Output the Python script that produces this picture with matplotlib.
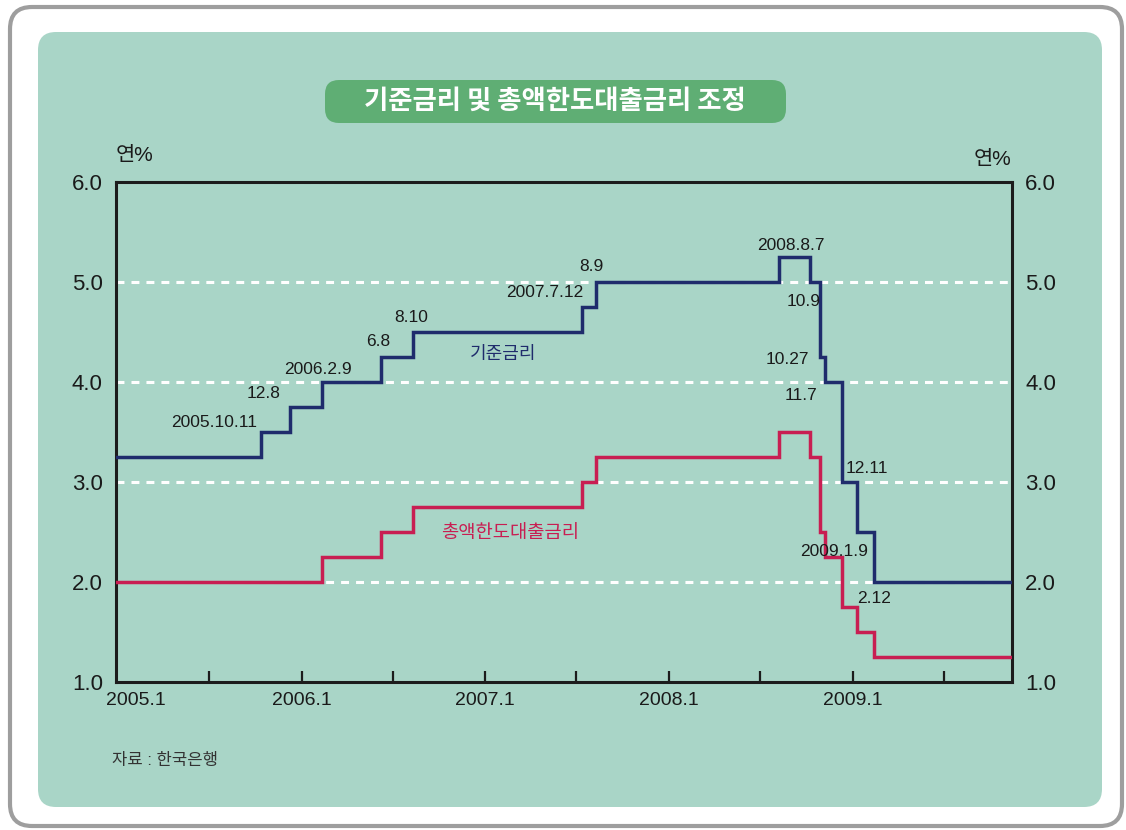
import matplotlib
matplotlib.use('Agg')
import matplotlib.pyplot as plt
import matplotlib.transforms as mtransforms
from matplotlib.patches import FancyBboxPatch
from matplotlib.ticker import FuncFormatter, FixedLocator
import matplotlib.dates as mdates
from datetime import datetime

plt.rcParams['font.family'] = ['Liberation Sans', 'Noto Sans CJK KR']

# ---------------- data ----------------
title = '기준금리 및 총액한도대출금리 조정'
base_name = '기준금리'
loan_name = '총액한도대출금리'
source = '자료 : 한국은행'
unit = '연%'

x_start = '2004-12-27'
x_end = '2009-11-14'

base_dates = ['2004-12-27', '2005-10-11', '2005-12-08', '2006-02-09', '2006-06-08',
              '2006-08-10', '2007-07-12', '2007-08-09', '2008-08-07', '2008-10-09',
              '2008-10-27', '2008-11-07', '2008-12-11', '2009-01-09', '2009-02-12',
              '2009-11-14']
base_rates = [3.25, 3.5, 3.75, 4.0, 4.25, 4.5, 4.75, 5.0, 5.25, 5.0,
              4.25, 4.0, 3.0, 2.5, 2.0, 2.0]

loan_dates = ['2004-12-27', '2006-02-09', '2006-06-08', '2006-08-10', '2007-07-12',
              '2007-08-09', '2008-08-07', '2008-10-09', '2008-10-27', '2008-11-07',
              '2008-12-11', '2009-01-09', '2009-02-12', '2009-11-14']
loan_rates = [2.0, 2.25, 2.5, 2.75, 3.0, 3.25, 3.5, 3.25, 2.5, 2.25,
              1.75, 1.5, 1.25, 1.25]

change_labels = ['2005.10.11', '12.8', '2006.2.9', '6.8', '8.10', '2007.7.12', '8.9',
                 '2008.8.7', '10.9', '10.27', '11.7', '12.11', '2009.1.9', '2.12']

y_ticks = [1.0, 2.0, 3.0, 4.0, 5.0, 6.0]
x_major = ['2005-01-01', '2006-01-01', '2007-01-01', '2008-01-01', '2009-01-01']
x_minor = ['2005-07-01', '2006-07-01', '2007-07-01', '2008-07-01', '2009-07-01']

# ---------------- styles ----------------
W, H = 1126, 830
NAVY = '#1f2c6c'
RED = '#c81e52'
PANEL = '#a9d5c7'
TITLEBOX = '#5fae74'
SPINE = '#1c1c1c'

def d(s):
    return mdates.date2num(datetime.strptime(s, '%Y-%m-%d'))

fig = plt.figure(figsize=(W / 100, H / 100), dpi=100, facecolor='white')

# background axes in pixel units
bg = fig.add_axes([0, 0, 1, 1], zorder=0)
bg.set_xlim(0, W)
bg.set_ylim(0, H)
bg.axis('off')

bg.add_patch(FancyBboxPatch((10, 4), 1112, 819, boxstyle='round,pad=0,rounding_size=22',
                            facecolor='white', edgecolor='#9e9e9e', linewidth=3.0))
bg.add_patch(FancyBboxPatch((38, 23), 1064, 775, boxstyle='round,pad=0,rounding_size=18',
                            facecolor=PANEL, edgecolor='none'))
bg.add_patch(FancyBboxPatch((325, 707), 461, 43, boxstyle='round,pad=0,rounding_size=14',
                            facecolor=TITLEBOX, edgecolor='none'))
bg.text(555, 729, title, ha='center', va='center', color='white', fontsize=19,
        fontweight='bold', family=['Noto Sans CJK KR', 'Liberation Sans'])
bg.text(135, H - 155, unit, ha='center', va='center', fontsize=15, color='#1a1a1a')
bg.text(993, H - 160, unit, ha='center', va='center', fontsize=15, color='#1a1a1a')
bg.text(112, H - 760, source, ha='left', va='center', fontsize=12, color='#333333')

# main axes
ax = fig.add_axes([116 / W, 1 - 682 / H, (1012 - 116) / W, (682 - 182) / H], zorder=1)
ax.set_facecolor('none')

bx = [d(s) for s in base_dates]
lx = [d(s) for s in loan_dates]
ax.step(bx, base_rates, where='post', color=NAVY, lw=2.5, solid_joinstyle='miter', zorder=3)
ax.step(lx, loan_rates, where='post', color=RED, lw=2.5, solid_joinstyle='miter', zorder=3)

ax.set_xlim(d(x_start), d(x_end))
ax.set_ylim(1.0, 6.0)

# grid
ax.set_yticks(y_ticks)
ax.yaxis.set_major_formatter(FuncFormatter(lambda v, p: f'{v:.1f}'))
ax.grid(axis='y', color='white', lw=2.2, dashes=(2.6, 2.3))
ax.set_axisbelow(True)

ax.tick_params(axis='y', left=False, right=False, labelleft=True, labelright=True,
               labelsize=16, pad=6, labelcolor='#1a1a1a')

ax.xaxis.set_major_locator(FixedLocator([d(s) for s in x_major]))
ax.xaxis.set_minor_locator(FixedLocator([d(s) for s in x_minor]))
ax.xaxis.set_major_formatter(FuncFormatter(
    lambda v, p: f'{mdates.num2date(v).year}.{mdates.num2date(v).month}'))
ax.tick_params(axis='x', which='both', direction='in', length=8, width=1.6,
               color=SPINE, top=False)
ax.tick_params(axis='x', which='major', labelsize=14, pad=7, labelcolor='#1a1a1a')

for s in ax.spines.values():
    s.set_color(SPINE)
    s.set_linewidth(2.2)

# first tick coincides with the left frame; hide its mark, nudge its label
fig.canvas.draw()
ax.xaxis.get_major_ticks()[0].tick1line.set_visible(False)
lbl0 = ax.get_xticklabels()[0]
lbl0.set_transform(lbl0.get_transform() + mtransforms.ScaledTranslation(17 / 100, 0, fig.dpi_scale_trans))

# annotations at change points (offsets in pixels)
ann_style = [
    (-4, 10, 'right', 'center'),
    (-9, 14, 'right', 'center'),
    (-4, 13, 'center', 'center'),
    (-3, 16, 'center', 'center'),
    (-2, 15, 'center', 'center'),
    (2, 15, 'right', 'center'),
    (-5, 16, 'center', 'center'),
    (12, 12, 'center', 'center'),
    (-7, -19, 'center', 'center'),
    (-10, -2, 'right', 'center'),
    (-8, -13, 'right', 'center'),
    (3, 14, 'left', 'center'),
    (-23, -19, 'center', 'center'),
    (0, -16, 'center', 'center'),
]
for lab, xs, yv, (dx, dy, ha, va) in zip(change_labels, bx[1:], base_rates[1:], ann_style):
    ax.annotate(lab, xy=(xs, yv), xytext=(dx, dy), textcoords='offset pixels',
                ha=ha, va=va, fontsize=12.5, color='#1a1a1a', zorder=4)

ax.text(d('2007-02-05'), 4.28, base_name, ha='center', va='center', fontsize=13, color=NAVY)
ax.text(d('2007-02-19'), 2.49, loan_name, ha='center', va='center', fontsize=13.5, color=RED)

fig.savefig('out.png', dpi=100, facecolor='white')
